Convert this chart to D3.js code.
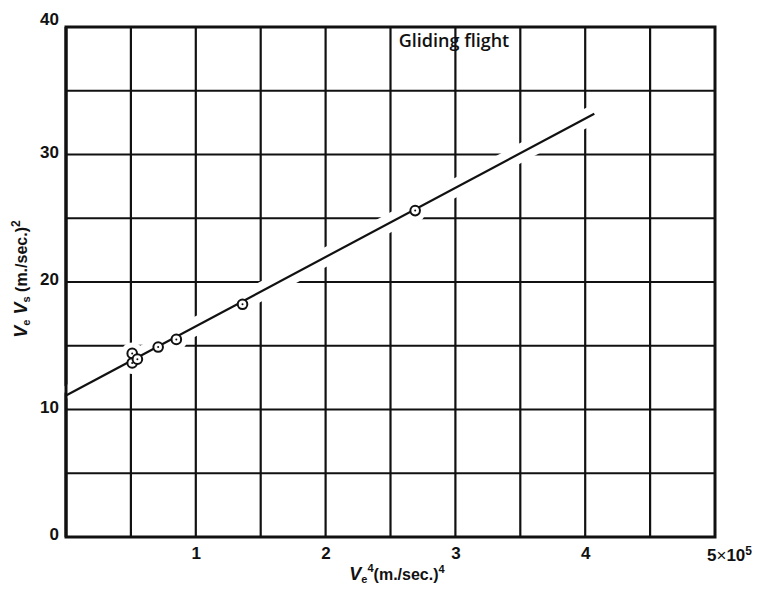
<!DOCTYPE html>
<html>
<head>
<meta charset="utf-8">
<script src="https://cdn.jsdelivr.net/npm/d3@7"></script>
<style>
  body { margin: 0; background: #fff; }
  svg { display: block; }
  .tick text { font-family: "Liberation Sans", Arial, sans-serif; font-size: 17px; font-weight: bold; fill: #111; }
</style>
</head>
<body>
<div id="chart"></div>
<script>
// data (x in units of 10^5 (m./sec.)^4)
const xTicks = [1, 2, 3, 4];
const yTicks = [0, 10, 20, 30, 40];
const xGrid = [0.5, 1, 1.5, 2, 2.5, 3, 3.5, 4, 4.5];
const yGrid = [5, 10, 15, 20, 25, 30, 35];
const pointX = [0.51, 0.51, 0.55, 0.71, 0.85, 1.36, 2.69];
const pointY = [14.4, 13.65, 13.95, 14.9, 15.5, 18.25, 25.6];
const fitX = [0, 4.07];
const fitY = [11.1, 33.2];

const width = 763, height = 589;
const margin = { top: 27, right: 48, bottom: 52, left: 66 };

const svg = d3.select('#chart').append('svg')
  .attr('width', width)
  .attr('height', height);

const x = d3.scaleLinear().domain([0, 5]).range([margin.left, width - margin.right]);
const y = d3.scaleLinear().domain([0, 40]).range([height - margin.bottom, margin.top]);

// grid
svg.append('g').selectAll('line').data(xGrid).enter().append('line')
  .attr('x1', d => x(d)).attr('x2', d => x(d))
  .attr('y1', y(0)).attr('y2', y(40))
  .attr('stroke', '#111').attr('stroke-width', 2.2);

svg.append('g').selectAll('line').data(yGrid).enter().append('line')
  .attr('x1', x(0)).attr('x2', x(5))
  .attr('y1', d => y(d)).attr('y2', d => y(d))
  .attr('stroke', '#111').attr('stroke-width', 2.2);

// frame
svg.append('rect')
  .attr('x', x(0)).attr('y', y(40))
  .attr('width', x(5) - x(0)).attr('height', y(0) - y(40))
  .attr('fill', 'none').attr('stroke', '#111').attr('stroke-width', 3);

// fitted line with a white gap in the grid around it
const fit = fitX.map((d, i) => [d, fitY[i]]);
const line = d3.line().x(d => x(d[0])).y(d => y(d[1]));

svg.append('path').datum(fit)
  .attr('d', line)
  .attr('fill', 'none').attr('stroke', '#fff').attr('stroke-width', 18);

// keep the frame clean where the halo touches it
svg.append('line')
  .attr('x1', x(0)).attr('x2', x(0)).attr('y1', y(0)).attr('y2', y(40))
  .attr('stroke', '#111').attr('stroke-width', 3);

const pts = pointX.map((d, i) => [d, pointY[i]]);

svg.append('g').selectAll('circle').data(pts).enter().append('circle')
  .attr('cx', d => x(d[0])).attr('cy', d => y(d[1]))
  .attr('r', 11).attr('fill', '#fff');

svg.append('path').datum(fit)
  .attr('d', line)
  .attr('fill', 'none').attr('stroke', '#111').attr('stroke-width', 2.2);

// points
svg.append('g').selectAll('circle').data(pts).enter().append('circle')
  .attr('cx', d => x(d[0])).attr('cy', d => y(d[1]))
  .attr('r', 4.8).attr('fill', '#fff').attr('stroke', '#111').attr('stroke-width', 2);

svg.append('g').selectAll('circle').data(pts).enter().append('circle')
  .attr('cx', d => x(d[0])).attr('cy', d => y(d[1]))
  .attr('r', 1).attr('fill', '#111');

// axes (labels only)
const xAxis = svg.append('g')
  .attr('transform', `translate(0,${y(0)})`)
  .call(d3.axisBottom(x).tickValues(xTicks).tickSize(0).tickPadding(10).tickFormat(d3.format('d')));
xAxis.select('.domain').remove();

const yAxis = svg.append('g')
  .attr('transform', `translate(${x(0)},0)`)
  .call(d3.axisLeft(y).tickValues(yTicks).tickSize(0).tickPadding(7).tickFormat(d3.format('d')));
yAxis.select('.domain').remove();
yAxis.selectAll('.tick text').attr('dy', '0.15em');
yAxis.selectAll('.tick').filter(d => d === 40).select('text').attr('dy', '-0.15em');

// 5 x 10^5 label at the end of the x axis
const fifth = svg.append('text')
  .attr('x', x(5) - 8).attr('y', y(0) + 24)
  .attr('font-family', '"Liberation Sans", Arial, sans-serif')
  .attr('font-size', 17).attr('font-weight', 'bold').attr('fill', '#111');
fifth.append('tspan').text('5');
fifth.append('tspan').attr('font-weight', 'normal').text('×');
fifth.append('tspan').text('10');
fifth.append('tspan').attr('dy', -6).attr('font-size', 12).text('5');

// axis titles
const labFont = '"Liberation Sans", Arial, sans-serif';

const xt = svg.append('text')
  .attr('x', 397).attr('y', 580)
  .attr('text-anchor', 'middle')
  .attr('font-family', labFont)
  .attr('font-size', 16).attr('font-weight', 'bold').attr('fill', '#111');
xt.append('tspan').attr('font-style', 'italic').attr('font-size', 18).text('V');
xt.append('tspan').attr('dy', 3).attr('font-size', 11).text('e');
xt.append('tspan').attr('dy', -11).attr('font-size', 11).text('4');
xt.append('tspan').attr('dy', 8).text('(m./sec.)');
xt.append('tspan').attr('dy', -7).attr('font-size', 11).text('4');

const yt = svg.append('text')
  .attr('transform', 'translate(27,279) rotate(-90)')
  .attr('text-anchor', 'middle')
  .attr('font-family', labFont)
  .attr('font-size', 16).attr('font-weight', 'bold').attr('fill', '#111');
yt.append('tspan').attr('font-style', 'italic').attr('font-size', 18).text('V');
yt.append('tspan').attr('dy', 3).attr('font-size', 11).text('e');
yt.append('tspan').attr('dy', -3).attr('font-style', 'italic').attr('font-size', 18).text(' V');
yt.append('tspan').attr('dy', 3).attr('font-size', 11).text('s');
yt.append('tspan').attr('dy', -3).text('  (m./sec.)');
yt.append('tspan').attr('dy', -7).attr('font-size', 12).text('2');

// caption inside plot
svg.append('text')
  .attr('x', 454).attr('y', 47)
  .attr('text-anchor', 'middle')
  .attr('font-family', '"Open Sans", "DejaVu Sans", sans-serif')
  .attr('font-size', 18).attr('font-weight', 600).attr('fill', '#111')
  .text('Gliding flight');
</script>
</body>
</html>
